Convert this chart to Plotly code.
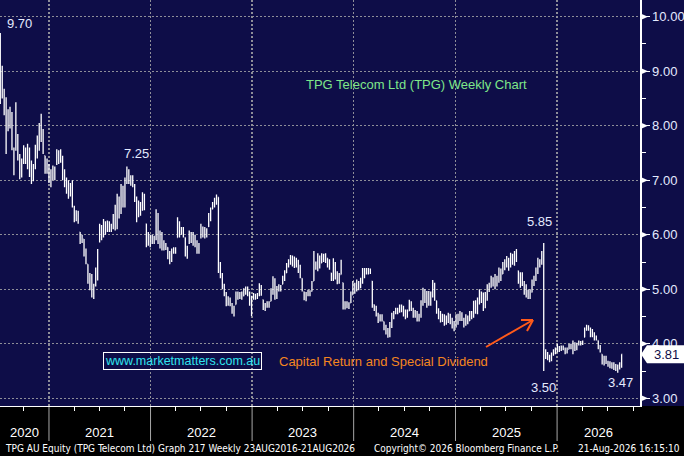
import pandas as pd
import plotly.graph_objects as go

# ---------------- data (weekly OHLC) ----------------
opens = [
    9.40, 8.60, 8.60, 8.30, 7.95, 8.10, 8.05, 7.55, 7.60, 7.80,
    7.45, 7.15, 7.35, 7.50, 7.40, 7.55, 7.20, 7.05, 7.25, 7.55,
    7.75, 7.90, 7.80, 7.45, 7.25, 7.20, 7.05, 7.10, 7.15, 7.30,
    7.45, 7.50, 7.40, 7.10, 6.95, 6.85, 6.80, 6.90, 6.50, 6.35,
    6.30, 6.05, 5.90, 5.92, 5.65, 5.46, 5.20, 5.05, 4.95, 5.10,
    5.35, 5.90, 6.10, 6.00, 6.20, 6.10, 6.20, 6.10, 6.15, 6.30,
    6.15, 6.60, 6.40, 6.80, 6.60, 6.95, 7.10, 7.05, 7.00, 6.90,
    6.65, 6.35, 6.55, 6.50, 6.70, 6.20, 5.90, 5.95, 5.85, 5.90,
    5.95, 6.35, 5.90, 6.00, 5.80, 5.75, 5.77, 5.60, 5.55, 5.70,
    5.72, 5.95, 6.20, 6.05, 6.10, 5.95, 5.65, 5.85, 6.00, 5.90,
    5.95, 5.85, 5.70, 5.95, 6.10, 6.00, 6.05, 6.15, 6.35, 6.47,
    6.55, 6.65, 6.69, 5.40, 5.25, 5.05, 4.90, 4.75, 4.80, 4.72,
    4.60, 4.72, 4.90, 4.85, 4.92, 4.88, 4.98, 5.00, 4.92, 4.80,
    4.85, 4.88, 4.85, 4.90, 5.05, 4.81, 4.68, 4.70, 4.72, 4.78,
    4.95, 5.15, 4.88, 5.00, 5.05, 5.09, 5.20, 5.30, 5.42, 5.50,
    5.58, 5.50, 5.45, 5.52, 5.35, 5.20, 4.95, 4.85, 4.90, 4.95,
    4.96, 5.15, 5.45, 5.40, 5.60, 5.48, 5.60, 5.55, 5.57, 5.45,
    5.30, 5.20, 5.40, 5.25, 5.15, 5.27, 5.12, 4.70, 4.72, 4.68,
    4.75, 4.90, 5.10, 4.98, 5.12, 5.05, 5.15, 5.30, 5.35, 5.32,
    5.35, 5.15, 4.72, 4.65, 4.55, 4.45, 4.50, 4.41, 4.30, 4.20,
    4.15, 4.35, 4.50, 4.58, 4.60, 4.62, 4.68, 4.65, 4.55, 4.58,
    4.60, 4.75, 4.62, 4.55, 4.58, 4.45, 4.50, 4.75, 4.95, 4.80,
    4.90, 4.78, 4.90, 5.05, 4.79, 4.60, 4.50, 4.45, 4.50, 4.40,
    4.45, 4.50, 4.42, 4.35, 4.30, 4.45, 4.50, 4.55, 4.45, 4.35,
    4.48, 4.42, 4.55, 4.52, 4.72, 4.62, 4.78, 4.90, 4.85, 4.70,
    4.90, 5.00, 5.08, 5.18, 5.10, 5.20, 5.15, 5.32, 5.28, 5.45,
    5.50, 5.48, 5.42, 5.60, 5.52, 5.62, 5.34, 5.20, 5.25, 5.12,
    4.95, 4.90, 4.88, 4.95, 5.10, 5.20, 5.35, 5.50, 5.48, 5.65,
    3.80, 3.78, 3.75, 3.72, 3.80, 3.85, 3.90, 3.92, 3.90, 3.95,
    3.92, 3.86, 3.90, 3.96, 3.94, 4.00, 3.92, 4.00, 4.02, 4.00,
    4.12, 4.25, 4.30, 4.27, 4.18, 4.20, 4.10, 4.06, 3.95, 3.81,
    3.68, 3.72, 3.66, 3.62, 3.60, 3.62, 3.56, 3.60, 3.55, 3.60,
]
highs = [
    9.70, 9.10, 8.68, 8.52, 8.30, 8.35, 8.25, 7.60, 8.43, 7.85,
    7.48, 7.40, 7.64, 7.60, 7.67, 7.60, 7.36, 7.30, 7.65, 7.82,
    8.05, 8.22, 7.94, 7.45, 7.40, 7.30, 7.20, 7.27, 7.25, 7.57,
    7.55, 7.57, 7.45, 7.20, 7.05, 7.00, 6.95, 7.00, 6.53, 6.45,
    6.44, 6.05, 6.00, 5.92, 5.75, 5.46, 5.30, 5.28, 5.10, 5.40,
    5.74, 6.20, 6.18, 6.29, 6.25, 6.26, 6.25, 6.20, 6.38, 6.55,
    6.75, 6.70, 6.93, 6.90, 7.05, 7.25, 7.20, 7.09, 7.09, 6.93,
    6.70, 6.63, 6.60, 6.78, 6.75, 6.20, 6.05, 6.00, 6.00, 5.98,
    6.47, 6.40, 6.08, 6.05, 5.90, 5.85, 5.77, 5.70, 5.75, 5.77,
    5.77, 6.32, 6.25, 6.14, 6.14, 5.95, 5.80, 6.08, 6.05, 6.05,
    6.00, 5.90, 5.85, 6.20, 6.15, 6.14, 6.12, 6.40, 6.50, 6.60,
    6.68, 6.74, 6.69, 5.50, 5.30, 5.10, 4.95, 4.87, 4.85, 4.75,
    4.70, 4.96, 4.96, 4.95, 4.96, 5.02, 5.05, 5.05, 4.96, 4.88,
    4.93, 4.92, 4.93, 5.11, 5.08, 4.81, 4.75, 4.78, 4.78, 5.02,
    5.24, 5.20, 5.06, 5.09, 5.08, 5.25, 5.35, 5.48, 5.55, 5.63,
    5.62, 5.60, 5.58, 5.54, 5.45, 5.20, 4.96, 4.95, 4.99, 4.98,
    5.15, 5.70, 5.51, 5.66, 5.62, 5.66, 5.65, 5.66, 5.57, 5.55,
    5.30, 5.57, 5.50, 5.33, 5.30, 5.54, 5.12, 4.78, 4.78, 4.76,
    4.96, 5.15, 5.12, 5.18, 5.15, 5.21, 5.39, 5.39, 5.39, 5.39,
    5.38, 5.15, 4.72, 4.70, 4.57, 4.54, 4.54, 4.41, 4.35, 4.29,
    4.40, 4.57, 4.60, 4.66, 4.66, 4.72, 4.72, 4.70, 4.63, 4.63,
    4.81, 4.78, 4.66, 4.62, 4.60, 4.55, 4.80, 5.03, 5.00, 4.97,
    4.97, 4.96, 5.17, 5.12, 4.79, 4.65, 4.60, 4.55, 4.54, 4.52,
    4.57, 4.55, 4.48, 4.42, 4.54, 4.55, 4.60, 4.58, 4.48, 4.54,
    4.52, 4.60, 4.60, 4.79, 4.80, 4.85, 5.00, 4.96, 4.94, 4.95,
    5.09, 5.12, 5.25, 5.22, 5.28, 5.25, 5.40, 5.38, 5.50, 5.55,
    5.61, 5.58, 5.67, 5.65, 5.70, 5.74, 5.34, 5.31, 5.31, 5.15,
    5.09, 4.99, 5.00, 5.18, 5.25, 5.40, 5.58, 5.55, 5.70, 5.85,
    3.90, 3.85, 3.80, 3.84, 3.90, 3.93, 4.00, 3.96, 3.97, 3.97,
    3.93, 3.93, 4.00, 4.00, 4.06, 4.03, 4.02, 4.06, 4.05, 4.06,
    4.30, 4.35, 4.34, 4.30, 4.27, 4.21, 4.15, 4.06, 3.98, 3.81,
    3.78, 3.78, 3.69, 3.68, 3.66, 3.66, 3.63, 3.62, 3.66, 3.81,
]
lows = [
    8.40, 8.50, 8.19, 7.48, 7.90, 7.95, 7.55, 7.09, 7.54, 7.36,
    7.02, 7.05, 7.30, 7.30, 7.20, 7.06, 6.93, 6.98, 7.20, 7.40,
    7.54, 7.70, 7.48, 7.12, 7.12, 6.95, 6.87, 7.00, 7.00, 7.28,
    7.30, 7.32, 7.00, 6.87, 6.75, 6.66, 6.70, 6.50, 6.23, 6.25,
    6.20, 5.83, 5.85, 5.60, 5.46, 5.10, 4.98, 4.85, 4.82, 5.05,
    5.16, 5.86, 5.90, 5.95, 6.00, 6.05, 6.05, 6.05, 6.10, 6.08,
    6.10, 6.30, 6.38, 6.50, 6.50, 6.93, 6.93, 6.90, 6.87, 6.60,
    6.23, 6.32, 6.35, 6.44, 6.45, 5.77, 5.80, 5.77, 5.83, 5.83,
    5.90, 5.83, 5.75, 5.71, 5.71, 5.72, 5.55, 5.46, 5.50, 5.65,
    5.65, 5.95, 5.95, 6.00, 5.95, 5.60, 5.56, 5.83, 5.85, 5.80,
    5.77, 5.65, 5.65, 5.93, 5.95, 5.93, 5.95, 6.14, 6.25, 6.47,
    6.50, 6.55, 5.30, 5.20, 5.00, 4.87, 4.69, 4.70, 4.69, 4.55,
    4.50, 4.72, 4.81, 4.82, 4.81, 4.87, 4.90, 4.87, 4.70, 4.51,
    4.81, 4.81, 4.82, 4.87, 4.88, 4.62, 4.60, 4.66, 4.66, 4.78,
    4.90, 4.81, 4.82, 4.96, 4.96, 5.09, 5.15, 5.30, 5.40, 5.45,
    5.42, 5.39, 5.40, 5.30, 5.20, 4.96, 4.80, 4.78, 4.87, 4.87,
    4.96, 5.15, 5.36, 5.33, 5.38, 5.48, 5.50, 5.48, 5.40, 5.36,
    5.15, 5.15, 5.18, 5.09, 5.10, 5.27, 4.63, 4.63, 4.65, 4.64,
    4.75, 4.90, 4.92, 4.96, 4.98, 5.02, 5.10, 5.20, 5.27, 5.27,
    5.28, 4.66, 4.60, 4.50, 4.38, 4.41, 4.41, 4.25, 4.17, 4.11,
    4.12, 4.29, 4.45, 4.54, 4.54, 4.57, 4.58, 4.50, 4.45, 4.48,
    4.60, 4.60, 4.48, 4.48, 4.41, 4.41, 4.48, 4.70, 4.75, 4.66,
    4.70, 4.70, 4.85, 4.79, 4.55, 4.45, 4.39, 4.40, 4.33, 4.35,
    4.38, 4.36, 4.28, 4.23, 4.30, 4.35, 4.42, 4.42, 4.30, 4.33,
    4.36, 4.42, 4.45, 4.48, 4.55, 4.54, 4.72, 4.75, 4.60, 4.65,
    4.79, 4.95, 5.03, 5.05, 5.00, 5.05, 5.12, 5.15, 5.28, 5.35,
    5.40, 5.34, 5.40, 5.45, 5.43, 5.50, 5.10, 5.03, 5.06, 4.90,
    4.85, 4.82, 4.82, 4.94, 5.06, 5.15, 5.28, 5.40, 5.45, 3.50,
    3.72, 3.70, 3.66, 3.68, 3.78, 3.81, 3.84, 3.85, 3.87, 3.88,
    3.81, 3.82, 3.90, 3.90, 3.81, 3.87, 3.88, 3.97, 3.97, 3.98,
    4.12, 4.24, 4.24, 4.12, 4.12, 4.06, 4.06, 3.90, 3.84, 3.62,
    3.60, 3.63, 3.58, 3.55, 3.54, 3.52, 3.50, 3.47, 3.53, 3.56,
]
closes = [
    8.60, 8.90, 8.30, 7.95, 8.10, 8.05, 7.70, 7.30, 7.95, 7.50,
    7.15, 7.35, 7.50, 7.40, 7.55, 7.20, 7.05, 7.25, 7.55, 7.75,
    7.90, 7.80, 7.50, 7.25, 7.20, 7.05, 7.10, 7.15, 7.20, 7.45,
    7.50, 7.40, 7.10, 6.95, 6.85, 6.80, 6.90, 6.55, 6.35, 6.30,
    6.25, 5.90, 5.95, 5.65, 5.50, 5.20, 5.05, 4.95, 5.05, 5.35,
    5.70, 6.10, 6.00, 6.20, 6.10, 6.20, 6.10, 6.15, 6.30, 6.15,
    6.60, 6.40, 6.80, 6.60, 6.95, 7.10, 7.05, 7.00, 6.95, 6.65,
    6.35, 6.55, 6.50, 6.70, 6.50, 5.90, 5.95, 5.85, 5.90, 5.95,
    6.35, 5.90, 6.00, 5.80, 5.75, 5.80, 5.60, 5.55, 5.70, 5.72,
    5.75, 6.20, 6.05, 6.10, 5.98, 5.65, 5.75, 6.00, 5.90, 5.95,
    5.85, 5.70, 5.80, 6.10, 6.00, 6.05, 6.10, 6.35, 6.45, 6.55,
    6.65, 6.70, 5.40, 5.25, 5.05, 4.90, 4.75, 4.80, 4.72, 4.60,
    4.65, 4.90, 4.85, 4.92, 4.88, 4.98, 5.00, 4.92, 4.80, 4.85,
    4.88, 4.85, 4.90, 5.05, 4.92, 4.68, 4.70, 4.72, 4.75, 4.95,
    5.15, 4.88, 5.00, 5.05, 5.02, 5.20, 5.30, 5.42, 5.50, 5.58,
    5.50, 5.45, 5.55, 5.35, 5.25, 5.00, 4.85, 4.90, 4.95, 4.92,
    5.10, 5.45, 5.40, 5.60, 5.45, 5.60, 5.55, 5.62, 5.45, 5.50,
    5.20, 5.40, 5.25, 5.15, 5.25, 5.45, 4.70, 4.72, 4.68, 4.74,
    4.90, 5.10, 4.98, 5.12, 5.05, 5.15, 5.30, 5.35, 5.32, 5.35,
    5.30, 4.75, 4.65, 4.55, 4.45, 4.50, 4.45, 4.30, 4.20, 4.15,
    4.35, 4.50, 4.58, 4.60, 4.62, 4.68, 4.65, 4.55, 4.58, 4.52,
    4.75, 4.62, 4.55, 4.58, 4.45, 4.50, 4.75, 4.95, 4.80, 4.90,
    4.78, 4.90, 5.05, 4.85, 4.60, 4.50, 4.45, 4.50, 4.40, 4.45,
    4.50, 4.42, 4.35, 4.30, 4.45, 4.50, 4.55, 4.45, 4.35, 4.48,
    4.42, 4.55, 4.52, 4.72, 4.62, 4.78, 4.90, 4.85, 4.70, 4.90,
    5.00, 5.08, 5.18, 5.10, 5.20, 5.15, 5.32, 5.25, 5.45, 5.50,
    5.48, 5.42, 5.60, 5.52, 5.62, 5.55, 5.20, 5.25, 5.12, 4.95,
    4.90, 4.88, 4.95, 5.10, 5.20, 5.35, 5.50, 5.48, 5.65, 3.80,
    3.78, 3.75, 3.72, 3.80, 3.85, 3.90, 3.92, 3.90, 3.95, 3.92,
    3.86, 3.90, 3.96, 3.94, 4.00, 3.92, 4.00, 4.02, 4.00, 4.04,
    4.25, 4.30, 4.28, 4.18, 4.20, 4.10, 4.08, 3.95, 3.88, 3.68,
    3.72, 3.66, 3.62, 3.60, 3.62, 3.56, 3.60, 3.55, 3.60, 3.81,
]
assert len(opens) == len(highs) == len(lows) == len(closes)

first_week = "2020-07-10"
dates = pd.date_range(first_week, periods=len(closes), freq="W-FRI")

year_labels = ["2020", "2021", "2022", "2023", "2024", "2025", "2026"]
price_ticks = [3, 4, 5, 6, 7, 8, 9, 10]
price_ticktext = ["3.00", "4.00", "5.00", "6.00", "7.00", "8.00", "9.00", "10.00"]
minor_price_ticks = [3.5, 4.5, 5.5, 6.5, 7.5, 8.5, 9.5]

peak_labels = ["9.70", "7.25", "5.85", "3.50", "3.47"]
chart_title = "TPG Telecom Ltd (TPG) Weekly Chart"
website = "www.marketmatters.com.au"
event_note = "Capital Return and Special Dividend"
footer_left = "TPG AU Equity (TPG Telecom Ltd) Graph 217 Weekly 23AUG2016-21AUG2026"
footer_mid = "Copyright\u00a9 2026 Bloomberg Finance L.P."
footer_right = "21-Aug-2026 16:15:10"

x_start, x_end = "2020-07-09", "2026-10-26"
y_low, y_high = 2.859, 10.306

# ---------------- styling / layout helpers ----------------
W, H = 684, 456
NAVY = "#0e0d48"
GRID = "#8e8e98"
TXT = "#e4eaff"
FONT = "Liberation Sans, Arial, sans-serif"
NARROW = "Liberation Sans Narrow, DejaVu Sans Condensed, Arial Narrow, sans-serif"
PLOT_R, PLOT_B = 640, 406


def px(x):
    return x / W


def py(y):
    return 1 - y / H


fig = go.Figure(
    go.Ohlc(
        x=dates, open=opens, high=highs, low=lows, close=closes,
        increasing=dict(line=dict(color="white", width=1.3)),
        decreasing=dict(line=dict(color="white", width=1.3)),
        tickwidth=0.3, hoverinfo="skip", showlegend=False,
    )
)

shapes = []
# navy panel behind plot + right axis area
shapes.append(dict(type="rect", xref="paper", yref="paper", x0=0, x1=1,
                   y0=py(PLOT_B), y1=1, fillcolor=NAVY, line=dict(width=0), layer="below"))

# year separators under the x axis
for yl in year_labels[1:]:
    d = pd.Timestamp(f"{yl}-01-01")
    shapes.append(dict(type="line", xref="x", yref="paper", x0=d, x1=d,
                       y0=py(PLOT_B + 1), y1=py(441), line=dict(color="#a8a8a8", width=1)))

# right-pointing triangles at the major price ticks
for v in price_ticks:
    shapes.append(dict(type="path", xref="paper", yref="y", xsizemode="pixel", ysizemode="pixel",
                       xanchor=px(PLOT_R), yanchor=v, path="M0,-3.5 L8,0 L0,3.5 Z",
                       fillcolor="white", line=dict(width=0)))

# last price tag
last = closes[-1]
shapes.append(dict(type="path", xref="paper", yref="y", xsizemode="pixel", ysizemode="pixel",
                   xanchor=px(641), yanchor=last, path="M0,0 L6,-9 L43,-9 L43,9 L6,9 Z",
                   fillcolor="white", line=dict(width=0)))

# orange arrow (shaft + open head)
ORANGE_ARROW = "#ff5a1a"
for (xa, ya, xb, yb) in [(486, 347, 533, 320), (533, 320, 521, 320), (533, 320, 527, 331)]:
    shapes.append(dict(type="line", xref="paper", yref="paper", x0=px(xa), y0=py(ya),
                       x1=px(xb), y1=py(yb), line=dict(color=ORANGE_ARROW, width=2)))

annotations = []


def text_at(t, x, y, color=TXT, size=13, family=FONT, xanchor="center", **kw):
    annotations.append(dict(text=t, x=px(x), y=py(y), xref="paper", yref="paper",
                            showarrow=False, xanchor=xanchor, yanchor="middle",
                            font=dict(color=color, size=size, family=family), **kw))


# value call-outs
for t, (x, y) in zip(peak_labels, [(19, 24), (136, 153), (539, 221), (543, 387), (620, 382)]):
    text_at(t, x, y)

text_at(chart_title, 416, 84, color="#7ee68a", size=13)
text_at(website, 182, 361, color="#30e4ee", size=12.5,
        bordercolor="white", borderwidth=1, borderpad=1)
text_at(event_note, 383, 361, color="#f5861f", size=13)

# last price text
annotations.append(dict(text=f"{last:.2f}", x=px(666), y=last, xref="paper", yref="y",
                        showarrow=False, xanchor="center", yanchor="middle",
                        font=dict(color=NAVY, size=13, family=FONT)))

# year labels centred on the visible part of each year
xs, xe = pd.Timestamp(x_start), pd.Timestamp(x_end)
for yl in year_labels:
    a = max(pd.Timestamp(f"{yl}-01-01"), xs)
    b = min(pd.Timestamp(f"{int(yl) + 1}-01-01"), xe)
    annotations.append(dict(text=yl, x=a + (b - a) / 2, y=py(432), xref="x", yref="paper",
                            showarrow=False, xanchor="center", yanchor="middle",
                            font=dict(color="white", size=13, family=FONT)))

# footer
text_at(footer_left, 3, 448, color="white", size=10, family=NARROW, xanchor="left")
text_at(footer_mid, 372, 448, color="white", size=10, family=NARROW, xanchor="left")
text_at(footer_right, 682, 448, color="white", size=10, family=NARROW, xanchor="right")

fig.update_layout(
    width=W, height=H,
    margin=dict(l=0, r=0, t=0, b=0, pad=0),
    paper_bgcolor="black", plot_bgcolor=NAVY,
    showlegend=False,
    shapes=shapes, annotations=annotations,
    xaxis=dict(
        domain=[0, px(PLOT_R)], range=[x_start, x_end], type="date",
        rangeslider=dict(visible=False),
        showgrid=True, gridcolor=GRID, gridwidth=1.4, griddash="2px,2px",
        dtick="M12", tick0="2021-01-01", ticks="", showticklabels=False,
        showline=True, linecolor="white", linewidth=1, zeroline=False,
        minor=dict(dtick="M3", tick0="2020-01-01", ticks="outside", ticklen=4,
                   tickcolor="white", tickwidth=1, showgrid=False),
    ),
    yaxis=dict(
        domain=[py(PLOT_B), 1], range=[y_low, y_high], side="right",
        tickmode="array", tickvals=price_ticks, ticktext=price_ticktext,
        ticks="outside", ticklen=8, tickcolor="white", tickwidth=1,
        tickfont=dict(color=TXT, size=13, family=FONT),
        showgrid=True, gridcolor=GRID, gridwidth=1.4, griddash="2px,2px",
        showline=True, linecolor="white", linewidth=1.5, zeroline=False,
        minor=dict(tickmode="array", tickvals=minor_price_ticks, ticks="outside",
                   ticklen=4, tickcolor="white", tickwidth=1, showgrid=False),
    ),
)

fig.write_html(
    "out.html",
    config={"displayModeBar": False, "staticPlot": True},
    post_script="document.body.style.margin='0';document.body.style.overflow='hidden';",
)
